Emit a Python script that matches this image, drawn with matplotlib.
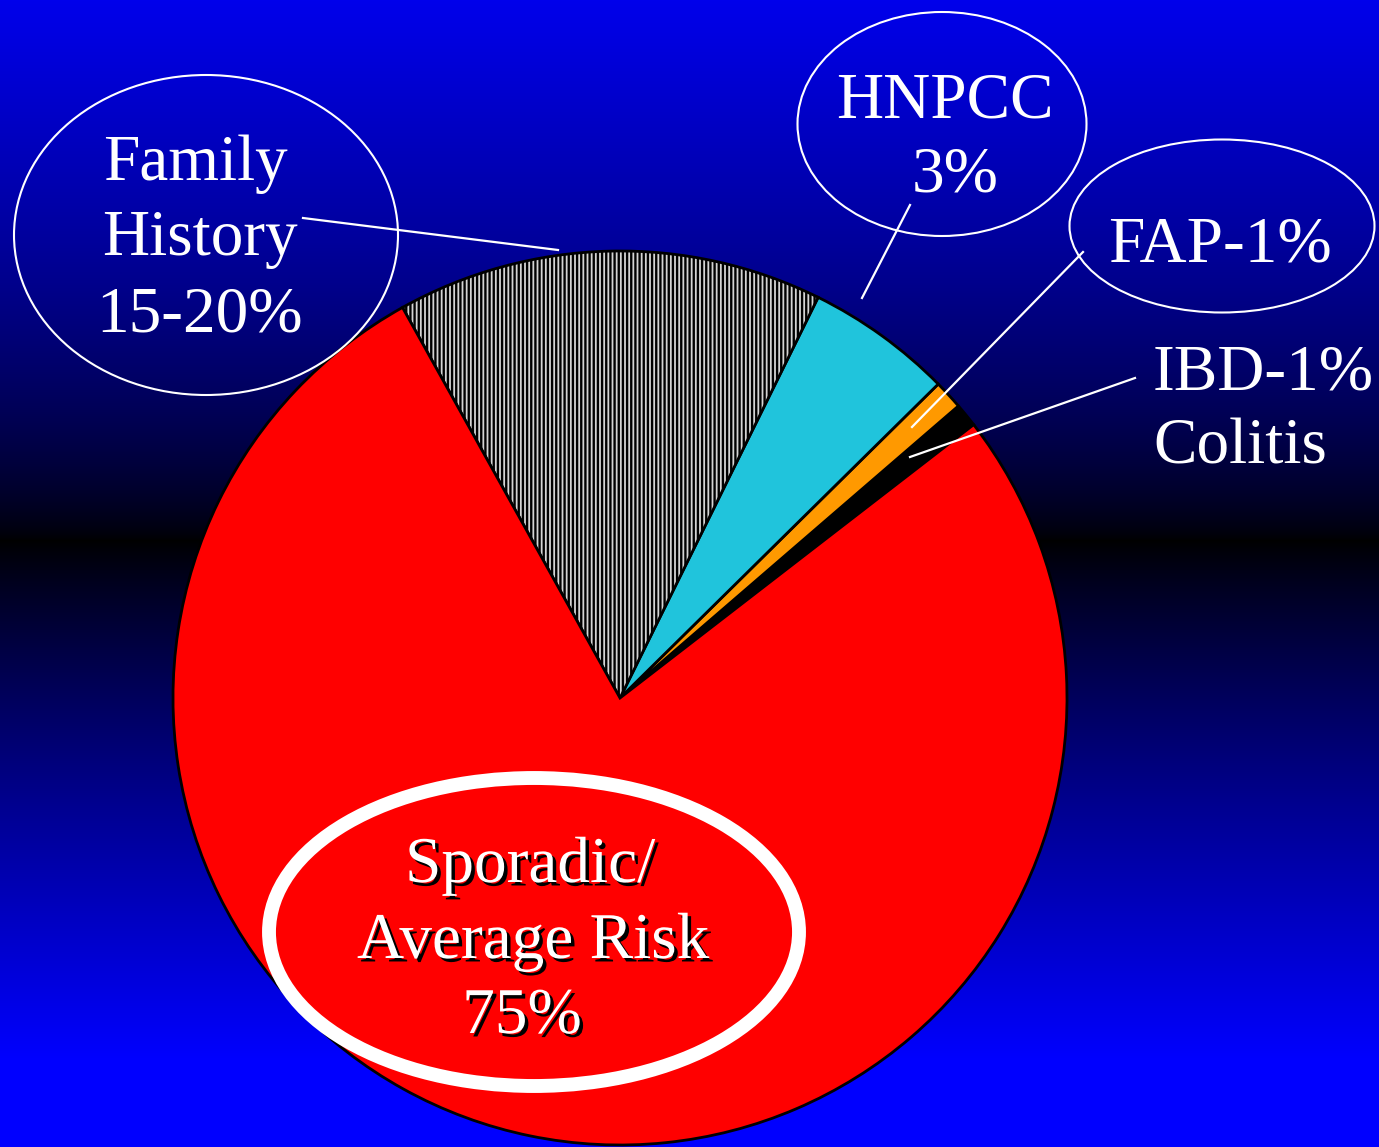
import numpy as np
import matplotlib
matplotlib.use('Agg')
import matplotlib.pyplot as plt
import matplotlib.patheffects as pe
from matplotlib.patches import Ellipse

# ─── Data ────────────────────────────────────────────────────────────────────
# slices drawn counter-clockwise from the IBD wedge (start ~37.7 deg)
categories = ['IBD', 'FAP', 'HNPCC', 'Family History', 'Sporadic']
shares = [0.86, 1.06, 5.3, 15.4, 77.4]
slice_colors = ['#000000', '#ff9900', '#20c4dc', '#d4d4d4', '#ff0000']
slice_hatch = [None, None, None, '||||', None]

W, H = 1379, 1147
plt.rcParams['font.family'] = ['Liberation Serif', 'DejaVu Serif']
plt.rcParams['hatch.linewidth'] = 1.7


def py(y):
    """pixel row (from top) -> data y"""
    return H - y


fig = plt.figure(figsize=(W / 100, H / 100), dpi=100)
ax = fig.add_axes([0, 0, 1, 1])

# ─── Background: blue -> black -> blue ───────────────────────────────────────
rows = np.arange(H)
blue = np.zeros(H)
top = rows < 540
blue[top] = 235 * ((540 - rows[top]) / 540) ** 0.7
d = np.clip((rows[~top] - 540) / 520, 0, 1)
blue[~top] = 255 * d ** 0.85
grad = np.zeros((H, 1, 3))
grad[:, 0, 2] = blue / 255
ax.imshow(grad, extent=[0, W, 0, H], aspect='auto', origin='upper', zorder=0)

# ─── Pie ─────────────────────────────────────────────────────────────────────
wedges, _ = ax.pie(shares, colors=slice_colors, startangle=37.7,
                   center=(620, py(698)), radius=447, frame=True,
                   wedgeprops=dict(edgecolor='black', linewidth=2))
for w, h in zip(wedges, slice_hatch):
    w.set_zorder(2)
    if h:
        w.set_hatch(h)

# ─── Label ellipses ──────────────────────────────────────────────────────────
ell_kw = dict(facecolor='none', edgecolor='white', zorder=3)
ax.add_patch(Ellipse((206, py(235)), 384, 320, linewidth=1.5, **ell_kw))
ax.add_patch(Ellipse((942, py(124)), 289, 224, linewidth=1.5, **ell_kw))
ax.add_patch(Ellipse((1222, py(226)), 305, 173, linewidth=1.5, **ell_kw))
ax.add_patch(Ellipse((534, py(932)), 530, 308, linewidth=10, **ell_kw))

# leader lines
leaders = [((303, 218), (558, 250)),
           ((910, 205), (862, 298)),
           ((1083, 252), (912, 427)),
           ((1135, 378), (910, 457))]
for (x0, y0), (x1, y1) in leaders:
    ax.plot([x0, x1], [py(y0), py(y1)], color='white', lw=1.6, zorder=4)

# ─── Texts ───────────────────────────────────────────────────────────────────
fs = 47
txt_kw = dict(color='white', fontsize=fs, zorder=5, va='baseline')
ax.text(195, py(180), 'Family', ha='center', **txt_kw)
ax.text(200, py(255), 'History', ha='center', **txt_kw)
ax.text(200, py(332), '15-20%', ha='center', **txt_kw)

ax.text(945, py(117), 'HNPCC', ha='center', **txt_kw)
ax.text(955, py(192), '3%', ha='center', **txt_kw)

ax.text(1220, py(262), 'FAP-1%', ha='center', **txt_kw)

ax.text(1153, py(389), 'IBD-1%', ha='left', **txt_kw)
ax.text(1153, py(464), 'Colitis', ha='left', **txt_kw)

shadow = [pe.withSimplePatchShadow(offset=(2.5, -2.5), shadow_rgbFace='black', alpha=1.0)]
for s, x, y in [('Sporadic/', 530, 882), ('Average Risk', 533, 958), ('75%', 522, 1033)]:
    ax.text(x, py(y), s, ha='center', path_effects=shadow, **txt_kw)

ax.set_xlim(0, W)
ax.set_ylim(0, H)
ax.set_aspect('auto')
ax.axis('off')

fig.savefig('out.png', dpi=100)
